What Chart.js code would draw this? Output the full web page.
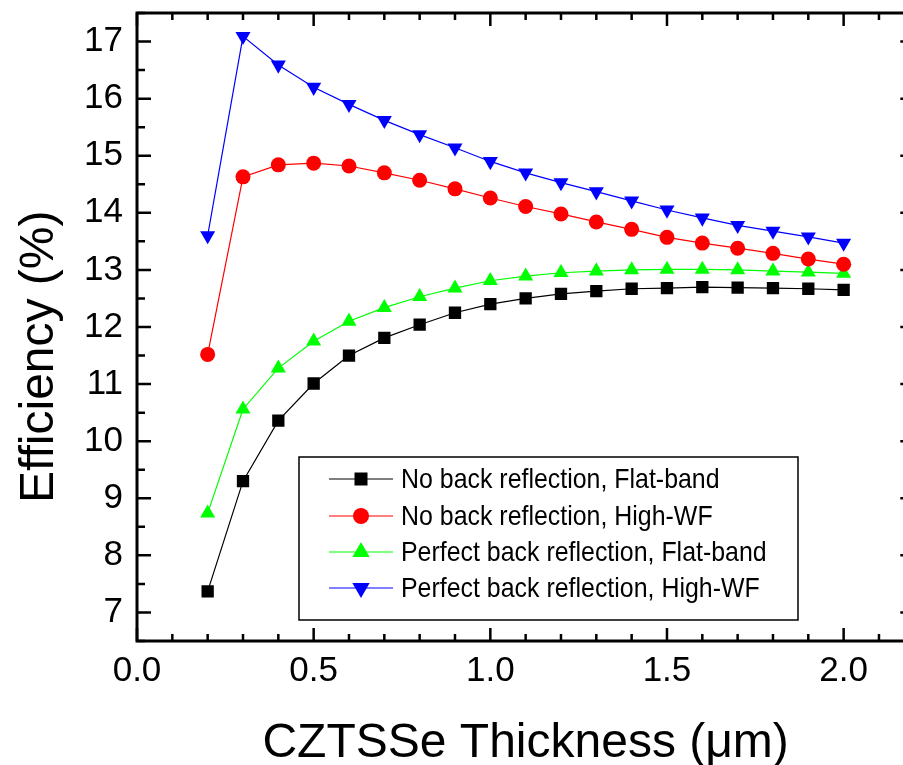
<!DOCTYPE html>
<html>
<head>
<meta charset="utf-8">
<title>CZTSSe efficiency vs thickness</title>
<script src="https://cdn.jsdelivr.net/npm/chart.js@4.4.1/dist/chart.umd.min.js"></script>
<style>
  html, body { margin: 0; padding: 0; background: #fff; overflow: hidden; }
  #wrap { width: 903px; height: 765px; overflow: hidden; }
  canvas { display: block; }
</style>
</head>
<body>
<!-- the plot frame runs a little past the right edge of the view -->
<div id="wrap"><canvas id="chart" width="923" height="765"></canvas></div>
<script>
// absorber thickness in um
const thickness = [0.2, 0.3, 0.4, 0.5, 0.6, 0.7, 0.8, 0.9, 1.0, 1.1, 1.2, 1.3, 1.4, 1.5, 1.6, 1.7, 1.8, 1.9, 2.0]

// efficiency (%) for each back contact case
const noReflFlat = [7.37, 9.30, 10.36, 11.01, 11.50, 11.81, 12.04, 12.25, 12.40, 12.50, 12.58, 12.63, 12.67, 12.68, 12.70, 12.69, 12.68, 12.67, 12.65]
const noReflHighWF = [11.52, 14.63, 14.84, 14.87, 14.82, 14.70, 14.57, 14.42, 14.26, 14.11, 13.98, 13.84, 13.71, 13.57, 13.47, 13.38, 13.29, 13.19, 13.10]
const perfReflFlat = [8.74, 10.56, 11.28, 11.75, 12.10, 12.34, 12.53, 12.68, 12.81, 12.89, 12.95, 12.98, 13.00, 13.01, 13.01, 13.00, 12.98, 12.96, 12.94]
const perfReflHighWF = [13.60, 17.09, 16.59, 16.20, 15.90, 15.62, 15.37, 15.14, 14.90, 14.70, 14.53, 14.37, 14.21, 14.05, 13.91, 13.78, 13.68, 13.58, 13.47]

const seriesLabels = [
  'No back reflection, Flat-band',
  'No back reflection, High-WF',
  'Perfect back reflection, Flat-band',
  'Perfect back reflection, High-WF'
]

const xTicks = [0.0, 0.5, 1.0, 1.5, 2.0]
const yTicks = [7, 8, 9, 10, 11, 12, 13, 14, 15, 16, 17]

const FONT = "'Liberation Sans', Arial, sans-serif"

function toPoints(values) {
  return values.map((v, i) => ({ x: thickness[i], y: v }))
}

function makeDataset(label, values, color, style, radius, rotation, legendRadius) {
  return {
    label: label,
    data: toPoints(values),
    borderColor: color,
    backgroundColor: color,
    borderWidth: 1.2,
    pointStyle: style,
    pointRadius: radius,
    pointRotation: rotation,
    pointBorderWidth: 0,
    pointBackgroundColor: color,
    legendRadius: legendRadius,
    tension: 0
  }
}

const datasets = [
  makeDataset(seriesLabels[0], noReflFlat, '#000000', 'rect', 8.7, 0, 9.2),
  makeDataset(seriesLabels[1], noReflHighWF, '#ff0000', 'circle', 7.5, 0, 8),
  makeDataset(seriesLabels[2], perfReflFlat, '#00ff00', 'triangle', 8.7, 0, 10),
  makeDataset(seriesLabels[3], perfReflHighWF, '#0000ff', 'triangle', 8.7, 180, 10)
]

// keep the plot frame fixed: no extra room for edge labels
function noEdgePadding(scale) {
  scale.paddingTop = 0
  scale.paddingBottom = 0
  scale.paddingLeft = 0
  scale.paddingRight = 0
}

// frame, inward ticks, axis titles and the boxed legend
const decorations = {
  id: 'decorations',
  afterDraw(chart) {
    const ctx = chart.ctx
    const area = chart.chartArea
    const xs = chart.scales.x
    const ys = chart.scales.y

    ctx.save()
    ctx.strokeStyle = '#000'
    ctx.lineWidth = 2.5

    // minor / major ticks on all four sides
    for (let i = 0; i <= 22; i++) {
      const v = i / 10
      const px = xs.getPixelForValue(v)
      const len = i % 5 === 0 ? 13 : 7
      ctx.beginPath()
      ctx.moveTo(px, area.bottom)
      ctx.lineTo(px, area.bottom - len)
      ctx.moveTo(px, area.top)
      ctx.lineTo(px, area.top + len)
      ctx.stroke()
    }
    for (let i = 13; i <= 35; i++) {
      const v = i / 2
      const py = ys.getPixelForValue(v)
      const len = i % 2 === 0 ? 14 : 8
      ctx.beginPath()
      ctx.moveTo(area.left, py)
      ctx.lineTo(area.left + len, py)
      ctx.moveTo(area.right, py)
      ctx.lineTo(area.right - len, py)
      ctx.stroke()
    }

    ctx.lineWidth = 3
    ctx.strokeRect(area.left, area.top, area.right - area.left, area.bottom - area.top)

    // axis titles
    ctx.fillStyle = '#000'
    ctx.font = '48px ' + FONT
    ctx.textAlign = 'center'
    ctx.textBaseline = 'alphabetic'
    ctx.fillText('CZTSSe Thickness (\u03bcm)', (area.left + area.right) / 2, 757)

    ctx.save()
    ctx.translate(53, 503)
    ctx.rotate(-Math.PI / 2)
    ctx.textAlign = 'left'
    ctx.fillText('Efficiency (%)', 0, 0)
    ctx.restore()

    // legend box
    const box = { left: 299, top: 457, right: 798, bottom: 620 }
    ctx.fillStyle = '#fff'
    ctx.fillRect(box.left, box.top, box.right - box.left, box.bottom - box.top)
    ctx.lineWidth = 1.5
    ctx.strokeStyle = '#000'
    ctx.strokeRect(box.left, box.top, box.right - box.left, box.bottom - box.top)

    const rowY = [479, 516, 552, 588]
    chart.data.datasets.forEach((ds, i) => {
      const y = rowY[i]
      ctx.strokeStyle = ds.borderColor
      ctx.lineWidth = 1.2
      ctx.beginPath()
      ctx.moveTo(329, y)
      ctx.lineTo(393, y)
      ctx.stroke()

      ctx.fillStyle = ds.pointBackgroundColor
      ctx.strokeStyle = ds.pointBackgroundColor
      ctx.lineWidth = 0
      Chart.helpers.drawPoint(ctx, {
        pointStyle: ds.pointStyle,
        radius: ds.legendRadius,
        rotation: ds.pointRotation,
        borderWidth: 0
      }, 361, y)

      ctx.save()
      ctx.translate(401, y)
      ctx.scale(0.89, 1)
      ctx.fillStyle = '#000'
      ctx.font = '28px ' + FONT
      ctx.textAlign = 'left'
      ctx.textBaseline = 'middle'
      ctx.fillText(ds.label, 0, 1)
      ctx.restore()
    })

    ctx.restore()
  }
}

new Chart(document.getElementById('chart'), {
  type: 'line',
  data: { datasets: datasets },
  options: {
    responsive: false,
    animation: false,
    devicePixelRatio: 1,
    layout: { padding: { top: 13, right: 0, left: 0, bottom: 0 } },
    plugins: {
      legend: { display: false },
      tooltip: { enabled: false }
    },
    scales: {
      x: {
        type: 'linear',
        min: 0,
        max: 2.2,
        grid: { display: false, drawTicks: false },
        border: { display: false },
        afterBuildTicks: scale => { scale.ticks = xTicks.map(v => ({ value: v })) },
        afterFit: scale => { scale.height = 124; noEdgePadding(scale) },
        ticks: {
          padding: 9,
          color: '#000',
          font: { family: FONT, size: 35 },
          maxRotation: 0,
          callback: v => Number(v).toFixed(1)
        }
      },
      y: {
        type: 'linear',
        min: 6.5,
        max: 17.5,
        grid: { display: false, drawTicks: false },
        border: { display: false },
        afterBuildTicks: scale => { scale.ticks = yTicks.map(v => ({ value: v })) },
        afterFit: scale => { scale.width = 137; noEdgePadding(scale) },
        ticks: {
          padding: 14,
          color: '#000',
          font: { family: FONT, size: 35 },
          callback: v => String(v)
        }
      }
    }
  },
  plugins: [decorations]
})
</script>
</body>
</html>
